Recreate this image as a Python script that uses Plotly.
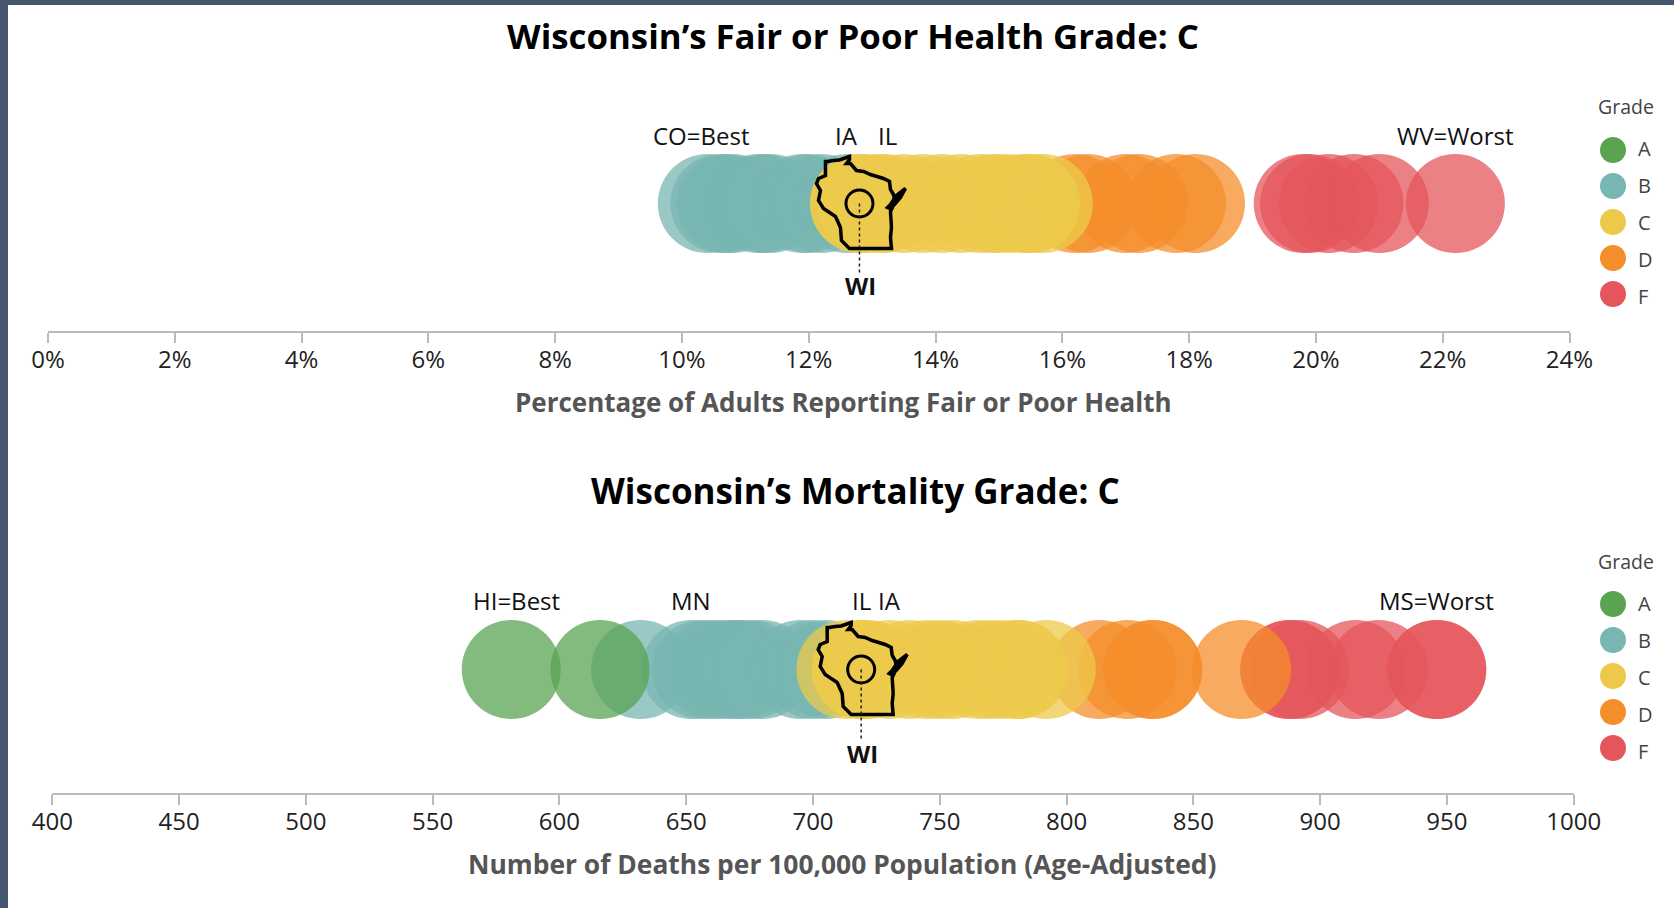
import plotly.graph_objects as go

W, H = 1674, 908
FONT = "Open Sans"
GRADES = ["A", "B", "C", "D", "F"]
DRAW_ORDER = ["B", "A", "F", "D", "C"]
COLORS = {"A": "#5aa351", "B": "#78b6b2", "C": "#ecc94b", "D": "#f48e2b", "F": "#e4565c"}

health_B = [10.4, 10.6, 10.7, 10.8, 11.2, 11.3, 11.4, 11.9, 12.0, 12.2, 12.6]
health_C = [12.8, 12.8, 12.9, 13.1, 13.2, 13.5, 13.8, 14.1, 14.4, 14.7, 14.9, 15.0, 15.2, 15.4, 15.5, 15.5, 15.7]
health_D = [16.2, 16.4, 17.0, 17.2, 17.8, 18.1]
health_F = [19.8, 19.9, 20.2, 20.6, 21.0, 22.2]
health_vals = {"A": [], "B": health_B, "C": health_C, "D": health_D, "F": health_F}

mort_A = [581, 616]
mort_B = [632, 652, 656, 660, 664, 668, 670, 672, 676, 680, 695, 700, 705]
mort_C = [713, 719, 719, 722, 730, 738, 745, 750, 755, 765, 770, 775, 781, 781, 792]
mort_D = [813, 824, 834, 834, 869]
mort_F = [888, 888, 892, 914, 923, 946, 946]
mort_vals = {"A": mort_A, "B": mort_B, "C": mort_C, "D": mort_D, "F": mort_F}

health_labels = [("CO=Best", 10.3), ("IA", 12.6), ("IL", 13.25), ("WV=Worst", 22.2)]
mort_labels = [("HI=Best", 583), ("MN", 652), ("IL", 719), ("IA", 730), ("MS=Worst", 946)]
HEALTH_WI = 12.8
MORT_WI = 719

health_ticks = list(range(0, 25, 2))
mort_ticks = list(range(400, 1001, 50))

# Wisconsin icon outline (pixels relative to the state's ring)
WI_OUTLINE = [(-34, 42), (-32, 42), (-26, 43), (-20, 43.5), (-13, 46), (-10, 47), (-10, 44), (-13, 40), (-9, 40),
              (-3, 33), (4, 32), (11, 29), (24, 25), (30, 22), (31, 14), (34, 9), (35, 4), (33, -4), (31, -8),
              (32, -24), (31, -34), (32, -45), (-10, -45), (-18, -37), (-19, -24), (-24, -13), (-36, -5), (-41, 3),
              (-39, 13), (-43, 20), (-41, 25), (-34, 28)]
WI_DOOR = [(31, -1), (37, 8), (46, 15), (41, 6), (35, -1), (30, -5), (28, -4)]


def to_path(points):
    return "M " + " L ".join(f"{x} {y}" for x, y in points) + " Z"


fig = go.Figure()

fx = lambda a, b: [a / W, b / W]
fy = lambda top, bottom: [1 - bottom / H, 1 - top / H]

panels = [
    dict(xa="xaxis", ya="yaxis", x="x", y="y", dom=fx(48, 1569.5), ydom=fy(76, 331), rng=[0, 24], ticks=health_ticks,
         suffix="%", vals=health_vals, labels=health_labels, wi=HEALTH_WI, center=203.5,
         label_y=135, wi_y=285.5, title="Wisconsin’s Fair or Poor Health Grade: C", title_x=853, title_y=35, title_size=34.8,
         xtitle="Percentage of Adults Reporting Fair or Poor Health", xt_x=843, xt_y=402, xt_size=26,
         lx="x3", ly="y3", lya="yaxis3", lxa="xaxis3", leg_top=132, grade_y=107, key_y=148.5),
    dict(xa="xaxis2", ya="yaxis2", x="x2", y="y2", dom=fx(52.3, 1573.7), ydom=fy(546, 793), rng=[400, 1000], ticks=mort_ticks,
         suffix="", vals=mort_vals, labels=mort_labels, wi=MORT_WI, center=669.5,
         label_y=600.5, wi_y=753, title="Wisconsin’s Mortality Grade: C", title_x=855, title_y=490, title_size=35,
         xtitle="Number of Deaths per 100,000 Population (Age-Adjusted)", xt_x=842, xt_y=864, xt_size=26.4,
         lx="x4", ly="y4", lya="yaxis4", lxa="xaxis4", leg_top=586, grade_y=561.5, key_y=603),
]

annotations, shapes = [], []
shapes.append(dict(type="rect", xref="paper", yref="paper", x0=0, x1=1, y0=1 - 5 / H, y1=1,
                   fillcolor="#45566e", line_width=0, layer="below"))
shapes.append(dict(type="rect", xref="paper", yref="paper", x0=0, x1=8 / W, y0=0, y1=1,
                   fillcolor="#45566e", line_width=0, layer="below"))


def text_note(text, x, y, size, color, xanchor="center"):
    return dict(text=text, x=x / W, y=1 - y / H, xref="paper", yref="paper", xanchor=xanchor, yanchor="middle",
                showarrow=False, font=dict(family=FONT, size=size, color=color))


for p in panels:
    for g in DRAW_ORDER:
        if p["vals"][g]:
            fig.add_trace(go.Scatter(x=p["vals"][g], y=[0] * len(p["vals"][g]), xaxis=p["x"], yaxis=p["y"],
                                     mode="markers", name=g, showlegend=False, cliponaxis=False,
                                     marker=dict(size=99, color=COLORS[g], opacity=0.75, line_width=0)))
    fig.add_trace(go.Scatter(x=[p["wi"]], y=[0], xaxis=p["x"], yaxis=p["y"], mode="markers", name="WI",
                             showlegend=False, cliponaxis=False,
                             marker=dict(symbol="circle-open", size=27, color="black", line=dict(width=3, color="black"))))
    for path in (WI_OUTLINE, WI_DOOR):
        shapes.append(dict(type="path", xref=p["x"], yref=p["y"], xsizemode="pixel", ysizemode="pixel",
                           xanchor=p["wi"], yanchor=0, path=to_path(path), line=dict(color="black", width=3.5),
                           fillcolor="rgba(0,0,0,0)" if path is WI_OUTLINE else "black"))
    shapes.append(dict(type="line", xref=p["x"], yref=p["y"], xsizemode="pixel", ysizemode="pixel",
                       xanchor=p["wi"], yanchor=0, x0=0, x1=0, y0=0, y1=-69,
                       line=dict(color="#222", width=1.5, dash="3px,3px")))

    fig.update_layout(**{
        p["xa"]: dict(domain=p["dom"], range=p["rng"], anchor=p["y"], tickmode="array", tickvals=p["ticks"],
                      ticktext=[f"{t}{p['suffix']}" for t in p["ticks"]], showgrid=False, zeroline=False,
                      automargin=False, ticklabelstandoff=-4,
                      showline=True, linecolor="#bbbbbb", linewidth=2, ticks="outside", ticklen=10,
                      tickcolor="#bbbbbb", tickwidth=2, tickfont=dict(family=FONT, size=24, color="#222222")),
        p["ya"]: dict(domain=p["ydom"], range=[-1, 1], visible=False, fixedrange=True, automargin=False),
    })

    for text, val in p["labels"]:
        annotations.append(dict(text=text, x=val, y=0, xref=p["x"], yref=p["y"], showarrow=False,
                                xanchor="center", yanchor="middle",
                                yshift=p["center"] - p["label_y"], font=dict(family=FONT, size=24, color="#111111")))
    annotations.append(dict(text="<b>WI</b>", x=p["wi"], y=0, xref=p["x"], yref=p["y"], showarrow=False,
                            xanchor="center", yanchor="middle", xshift=1,
                            yshift=p["center"] - p["wi_y"], font=dict(family=FONT, size=24, color="#111111")))
    annotations.append(text_note(f"<b>{p['title']}</b>", p["title_x"], p["title_y"], p["title_size"], "#000000"))
    annotations.append(text_note(f"<b>{p['xtitle']}</b>", p["xt_x"], p["xt_y"], p["xt_size"], "#555555"))
    annotations.append(text_note("Grade", 1626, p["grade_y"], 19.5, "#444444"))
    for i, g in enumerate(GRADES):
        annotations.append(text_note(g, 1635.5, p["key_y"] + 37 * i, 20, "#444444", xanchor="left"))

    # Grade key: one marker per grade, placed by a category axis
    fig.add_trace(go.Scatter(x=["key"] * len(GRADES), y=GRADES, xaxis=p["lx"], yaxis=p["ly"], mode="markers",
                             showlegend=False, cliponaxis=False,
                             marker=dict(size=26, color=[COLORS[g] for g in GRADES], line_width=0)))
    fig.update_layout(**{
        p["lxa"]: dict(domain=fx(1593, 1633), type="category", visible=False, anchor=p["ly"], fixedrange=True,
                       automargin=False),
        p["lya"]: dict(domain=fy(p["leg_top"], p["leg_top"] + 180), type="category", categoryorder="array",
                       categoryarray=GRADES, range=[4.5, -0.5], visible=False, anchor=p["lx"], fixedrange=True,
                       automargin=False),
    })

fig.update_layout(width=W, height=H, margin=dict(l=0, r=0, t=0, b=0), paper_bgcolor="white", plot_bgcolor="rgba(0,0,0,0)",
                  showlegend=False, annotations=annotations, shapes=shapes, font=dict(family=FONT))

fig.write_html("out.html", config={"displayModeBar": False},
               post_script="document.body.style.margin='0';document.body.style.overflow='hidden';")
